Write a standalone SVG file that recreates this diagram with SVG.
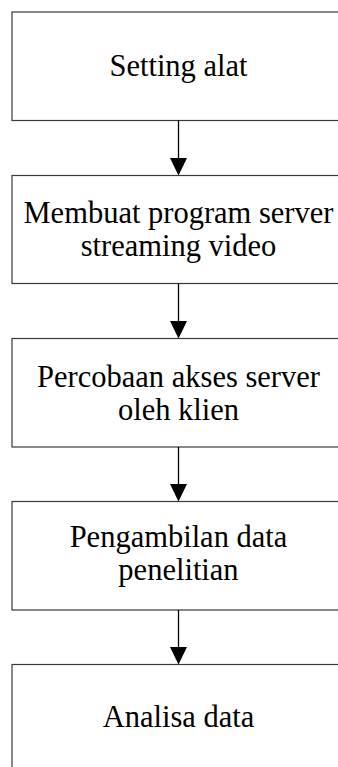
<svg xmlns="http://www.w3.org/2000/svg" width="338" height="767" viewBox="0 0 338 767">
<style>
.box{fill:#fff;stroke:#3a3a3a;stroke-width:1.2}
.lbl{font-family:"Liberation Serif","Times New Roman",serif;font-size:30.5px;fill:#000;text-anchor:middle}
.conn{stroke:#000;stroke-width:1.3;fill:none}
.head{fill:#000}
</style>
<rect width="338" height="767" fill="#fff"/>
<g id="n1"><rect class="box" x="12" y="12" width="334" height="108.5"/><text class="lbl" x="178.5" y="76">Setting alat</text></g>
<g id="n2"><rect class="box" x="12" y="175.5" width="334" height="108"/><text class="lbl" x="178.5" y="223">Membuat program server</text><text class="lbl" x="178.5" y="256">streaming video</text></g>
<g id="n3"><rect class="box" x="12" y="338.5" width="334" height="108.5"/><text class="lbl" x="178.5" y="387">Percobaan akses server</text><text class="lbl" x="178.5" y="420">oleh klien</text></g>
<g id="n4"><rect class="box" x="12" y="501.5" width="334" height="108.5"/><text class="lbl" x="178.5" y="547">Pengambilan data</text><text class="lbl" x="178.5" y="580">penelitian</text></g>
<g id="n5"><rect class="box" x="12" y="664.5" width="334" height="120"/><text class="lbl" x="178.5" y="727">Analisa data</text></g>
<g id="connectors">
<line class="conn" x1="178.5" y1="120.5" x2="178.5" y2="160"/><polygon class="head" points="170,158 187,158 178.5,175.5"/>
<line class="conn" x1="178.5" y1="283.5" x2="178.5" y2="323"/><polygon class="head" points="170,321 187,321 178.5,338.5"/>
<line class="conn" x1="178.5" y1="447" x2="178.5" y2="486"/><polygon class="head" points="170,484 187,484 178.5,501.5"/>
<line class="conn" x1="178.5" y1="610" x2="178.5" y2="649"/><polygon class="head" points="170,647 187,647 178.5,664.5"/>
</g>
</svg>
